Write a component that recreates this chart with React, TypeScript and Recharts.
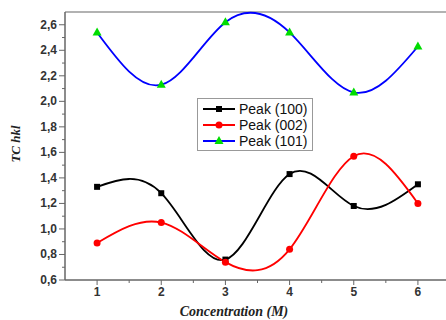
import { LineChart, Line, XAxis, YAxis, ReferenceLine, Label } from 'recharts'

const concentrations = [1, 2, 3, 4, 5, 6]
const peak100 = [1.33, 1.28, 0.76, 1.43, 1.18, 1.35]
const peak002 = [0.89, 1.05, 0.74, 0.84, 1.57, 1.2]
const peak101 = [2.54, 2.13, 2.62, 2.54, 2.07, 2.43]

const xMajorTicks = [1, 2, 3, 4, 5, 6]
const xTicks = [1, 1.5, 2, 2.5, 3, 3.5, 4, 4.5, 5, 5.5, 6, 6.5]
const yMajorTicks = [0.6, 0.8, 1.0, 1.2, 1.4, 1.6, 1.8, 2.0, 2.2, 2.4, 2.6]
const yTicks = [0.6, 0.7, 0.8, 0.9, 1.0, 1.1, 1.2, 1.3, 1.4, 1.5, 1.6, 1.7, 1.8, 1.9, 2.0, 2.1, 2.2, 2.3, 2.4, 2.5, 2.6]

const chartData = concentrations.map((c, i) => ({
  c,
  p100: peak100[i],
  p002: peak002[i],
  p101: peak101[i],
}))

const AXIS = '#666'
const TICK_FONT = '"Liberation Sans", Arial, sans-serif'
const SERIF = '"Liberation Serif", "Times New Roman", serif'

const isMajor = (list: number[], v: number) => list.some((m) => Math.abs(m - v) < 1e-6)

function XTick({ x, y, payload }: any) {
  const major = isMajor(xMajorTicks, payload.value)
  return (
    <g>
      <line x1={x} x2={x} y1={y} y2={y + (major ? 5 : 3)} stroke={AXIS} strokeWidth={1} />
      {major && (
        <text x={x} y={y + 16} textAnchor="middle" fontSize={12} fontWeight="bold" fill="#333" fontFamily={TICK_FONT}>
          {payload.value}
        </text>
      )}
    </g>
  )
}

function YTick({ x, y, payload }: any) {
  const major = isMajor(yMajorTicks, payload.value)
  return (
    <g>
      <line x1={x - (major ? 6 : 3)} x2={x} y1={y} y2={y} stroke={AXIS} strokeWidth={1} />
      {major && (
        <text x={x - 8} y={y + 4} textAnchor="end" fontSize={12} fontWeight="bold" fill="#333" fontFamily={TICK_FONT}>
          {payload.value.toFixed(1).replace('.', ',')}
        </text>
      )}
    </g>
  )
}

function SquareDot({ cx, cy }: any) {
  return <rect x={cx - 3} y={cy - 3} width={6} height={6} fill="#000" />
}

function CircleDot({ cx, cy }: any) {
  return <circle cx={cx} cy={cy} r={3.5} fill="#ff0000" />
}

function TriangleDot({ cx, cy }: any) {
  return <polygon points={`${cx},${cy - 5} ${cx - 4.5},${cy + 3} ${cx + 4.5},${cy + 3}`} fill="#00dd00" />
}

const legendItems = [
  { name: 'Peak (100)', color: '#000', Dot: SquareDot },
  { name: 'Peak (002)', color: '#ff0000', Dot: CircleDot },
  { name: 'Peak (101)', color: '#0000ff', Dot: TriangleDot },
]

function LegendBox() {
  return (
    <svg width={116} height={53} style={{ display: 'block' }}>
      <rect x={0.5} y={0.5} width={115} height={52} fill="#fff" stroke="#999" />
      {legendItems.map((it, i) => {
        const cy = 11 + i * 16
        return (
          <g key={it.name}>
            <line x1={6} x2={38} y1={cy} y2={cy} stroke={it.color} strokeWidth={2} />
            <it.Dot cx={22} cy={cy} />
            <text x={42} y={cy + 5} fontSize={14} fill="#111" fontFamily={TICK_FONT}>
              {it.name}
            </text>
          </g>
        )
      })}
    </svg>
  )
}

export default function App() {
  return (
    <div style={{ position: 'absolute', left: 0, top: 0, width: 446, height: 320, overflow: 'hidden', background: '#fff' }}>
      <LineChart width={460} height={320} data={chartData} margin={{ top: 12, right: 10, bottom: 0, left: 0 }}>
        <XAxis
          dataKey="c"
          type="number"
          domain={[0.5, 6.5]}
          ticks={xTicks}
          interval={0}
          tick={<XTick />}
          tickLine={false}
          tickSize={0}
          tickMargin={0}
          axisLine={{ stroke: AXIS, strokeWidth: 1.5 }}
          height={40}
        >
          <Label
            content={() => (
              <text x={234} y={316} textAnchor="middle" fontSize={14} fontWeight="bold" fontStyle="italic" fill="#222" fontFamily={SERIF}>
                Concentration (M)
              </text>
            )}
          />
        </XAxis>
        <YAxis
          type="number"
          domain={[0.6, 2.7]}
          ticks={yTicks}
          interval={0}
          tick={<YTick />}
          tickLine={false}
          tickSize={0}
          tickMargin={0}
          axisLine={{ stroke: AXIS, strokeWidth: 1.5 }}
          width={65}
        >
          <Label
            content={() => (
              <text
                x={20}
                y={144}
                transform="rotate(-90 20 144)"
                textAnchor="middle"
                fontSize={13}
                fontWeight="bold"
                fontStyle="italic"
                fill="#222"
                fontFamily={SERIF}
              >
                TC hkl
              </text>
            )}
          />
        </YAxis>
        <ReferenceLine y={2.7} stroke="#999" strokeWidth={1.5} />
        <Line type="natural" dataKey="p100" stroke="#000" strokeWidth={1.8} dot={<SquareDot />} activeDot={false} isAnimationActive={false} />
        <Line type="natural" dataKey="p002" stroke="#ff0000" strokeWidth={1.8} dot={<CircleDot />} activeDot={false} isAnimationActive={false} />
        <Line type="natural" dataKey="p101" stroke="#0000ff" strokeWidth={1.8} dot={<TriangleDot />} activeDot={false} isAnimationActive={false} />
      </LineChart>
      <div style={{ position: 'absolute', left: 197, top: 98 }}>
        <LegendBox />
      </div>
    </div>
  )
}
